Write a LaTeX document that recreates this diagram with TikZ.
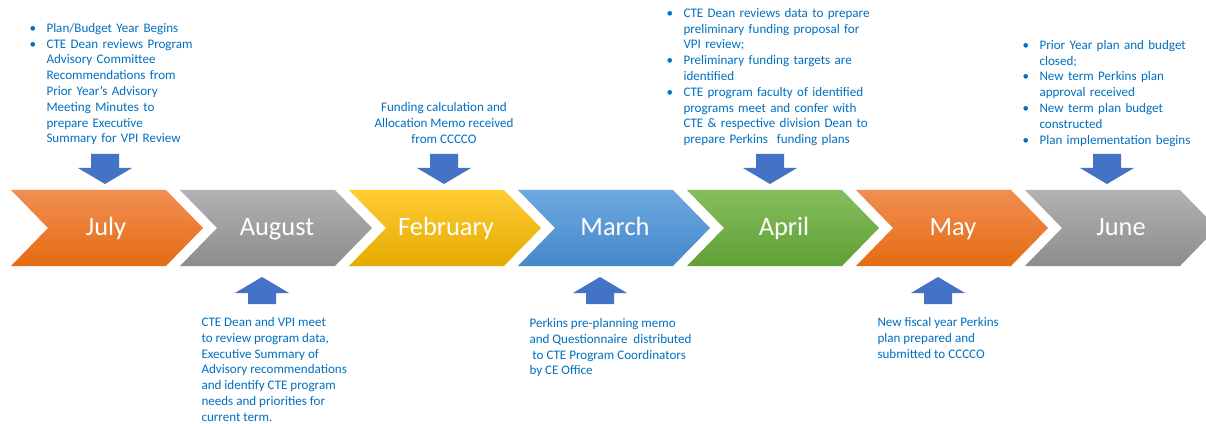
\documentclass[tikz,border=0pt]{standalone}
\usepackage{fontspec}
\setmainfont{Carlito}

\definecolor{notetext}{RGB}{0,112,192}
\definecolor{arrowblue}{RGB}{68,114,196}
\definecolor{orangetop}{RGB}{241,142,82}
\definecolor{orangebot}{RGB}{228,108,18}
\definecolor{graytop}{RGB}{178,178,178}
\definecolor{graybot}{RGB}{140,140,140}
\definecolor{yellowtop}{RGB}{255,204,51}
\definecolor{yellowbot}{RGB}{228,170,0}
\definecolor{bluetop}{RGB}{110,168,224}
\definecolor{bluebot}{RGB}{70,136,202}
\definecolor{greentop}{RGB}{132,190,92}
\definecolor{greenbot}{RGB}{96,160,54}

\newenvironment{dotlist}{\begin{list}{\textbullet}{%
  \setlength{\leftmargin}{12.75pt}\setlength{\labelwidth}{12.75pt}%
  \setlength{\labelsep}{0pt}\setlength{\itemsep}{0pt}%
  \setlength{\parsep}{0pt}\setlength{\topsep}{0pt}\setlength{\partopsep}{0pt}%
  \renewcommand{\makelabel}[1]{##1\hfil}}}{\end{list}}

\tikzset{every picture/.style={line width=0.75pt}}
\tikzset{
  month/.style={text=white,font=\fontsize{19.8}{22}\selectfont,anchor=base},
  note/.style={text=notetext,font=\fontsize{9.8}{11.85}\selectfont,inner sep=0pt,align=left},
  blockarrow/.style={fill=arrowblue,draw=none},
}

\begin{document}
\begin{tikzpicture}[x=0.75pt,y=0.75pt,yscale=-1,xscale=1]
\clip (0,0) rectangle (1206,424);
\fill[white] (0,0) rectangle (1206,424);

%Shape: Chevron July
\shade[top color=orangetop,bottom color=orangebot] (11,190) -- (166,190) -- (203,228) -- (166,266) -- (11,266) -- (48,228) -- cycle ;
%Shape: Chevron August
\shade[top color=graytop,bottom color=graybot] (180,190) -- (335,190) -- (372,228) -- (335,266) -- (180,266) -- (217,228) -- cycle ;
%Shape: Chevron February
\shade[top color=yellowtop,bottom color=yellowbot] (349,190) -- (504,190) -- (541,228) -- (504,266) -- (349,266) -- (386,228) -- cycle ;
%Shape: Chevron March
\shade[top color=bluetop,bottom color=bluebot] (518,190) -- (673,190) -- (710,228) -- (673,266) -- (518,266) -- (555,228) -- cycle ;
%Shape: Chevron April
\shade[top color=greentop,bottom color=greenbot] (687,190) -- (842,190) -- (879,228) -- (842,266) -- (687,266) -- (724,228) -- cycle ;
%Shape: Chevron May
\shade[top color=orangetop,bottom color=orangebot] (856,190) -- (1011,190) -- (1048,228) -- (1011,266) -- (856,266) -- (893,228) -- cycle ;
%Shape: Chevron June
\shade[top color=graytop,bottom color=graybot] (1025,190) -- (1180,190) -- (1217,228) -- (1180,266) -- (1025,266) -- (1062,228) -- cycle ;

% Month labels
\node[month] (july) at (106,235) {July};
\node[month] (august) at (277,235) {August};
\node[month] (february) at (446,235) {February};
\node[month] (march) at (615,235) {March};
\node[month] (april) at (784,235) {April};
\node[month] (may) at (953,235) {May};
\node[month] (june) at (1121,235) {June};

%Shape: Down Arrows
\fill[blockarrow] (91,154) -- (119,154) -- (119,168) -- (132,168) -- (105,184) -- (78,168) -- (91,168) -- cycle ;
\fill[blockarrow] (430,154) -- (458,154) -- (458,168) -- (471,168) -- (444,184) -- (417,168) -- (430,168) -- cycle ;
\fill[blockarrow] (756,154) -- (784,154) -- (784,168) -- (797,168) -- (770,184) -- (743,168) -- (756,168) -- cycle ;
\fill[blockarrow] (1093,154) -- (1121,154) -- (1121,168) -- (1134,168) -- (1107,184) -- (1080,168) -- (1093,168) -- cycle ;

%Shape: Up Arrows
\fill[blockarrow] (262,277) -- (289,293) -- (276,293) -- (276,304) -- (248,304) -- (248,293) -- (235,293) -- cycle ;
\fill[blockarrow] (600,277) -- (627,293) -- (614,293) -- (614,304) -- (586,304) -- (586,293) -- (573,293) -- cycle ;
\fill[blockarrow] (938,277) -- (965,293) -- (952,293) -- (952,304) -- (924,304) -- (924,293) -- (911,293) -- cycle ;

% Text Node
\node[note,anchor=north west,text width=135pt] (julynote) at (29,16) {%
\begin{dotlist}
\item Plan/Budget Year Begins
\item CTE Dean reviews Program\newline Advisory Committee\newline Recommendations from\newline Prior Year's Advisory\newline Meeting Minutes to\newline prepare Executive\newline Summary for VPI Review
\end{dotlist}};
% Text Node
\node[note,anchor=north,align=center] (febnote) at (444,102) {Funding calculation and\\Allocation Memo received\\from CCCCO};
% Text Node
\node[note,anchor=north west,text width=160pt] (aprilnote) at (666,1) {%
\begin{dotlist}
\item CTE Dean reviews data to prepare\newline preliminary funding proposal for\newline VPI review;
\item Preliminary funding targets are\newline identified
\item CTE program faculty of identified\newline programs meet and confer with\newline CTE \& respective division Dean to\newline prepare Perkins\ \ funding plans
\end{dotlist}};
% Text Node
\node[note,anchor=north west,text width=140pt] (junenote) at (1022,33) {%
\begin{dotlist}
\item Prior Year plan and budget\newline closed;
\item New term Perkins plan\newline approval received
\item New term plan budget\newline constructed
\item Plan implementation begins
\end{dotlist}};
% Text Node
\node[note,anchor=north west] (augustnote) at (201,317) {CTE Dean and VPI meet\\to review program data,\\Executive Summary of\\Advisory recommendations\\and identify CTE program\\needs and priorities for\\current term.};
% Text Node
\node[note,anchor=north west] (marchnote) at (529,318) {Perkins pre-planning memo\\and Questionnaire\ \ distributed\\\ to CTE Program Coordinators\\by CE Office};
% Text Node
\node[note,anchor=north west] (maynote) at (877,317) {New fiscal year Perkins\\plan prepared and\\submitted to CCCCO};

\end{tikzpicture}
\end{document}
